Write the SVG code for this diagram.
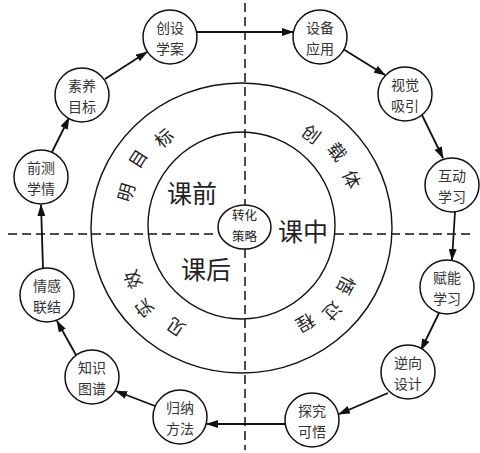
<svg xmlns="http://www.w3.org/2000/svg" width="480" height="453" viewBox="0 0 480 453">
<style>
.ring{fill:none;stroke:#111;stroke-width:1.4}
.dash{fill:none;stroke:#111;stroke-width:1.5;stroke-dasharray:9 5}
.node{fill:#fff;stroke:#111;stroke-width:1.5}
.nt{font-family:"Noto Sans CJK SC","Noto Sans",sans-serif;font-size:14px;fill:#333;text-anchor:middle;dominant-baseline:central}
.rt{font-family:"Noto Sans CJK SC","Noto Sans",sans-serif;font-size:18px;fill:#222;text-anchor:middle;dominant-baseline:central}
.bt{font-family:"Noto Sans CJK SC","Noto Sans",sans-serif;font-size:25px;fill:#222;text-anchor:middle;dominant-baseline:central}
.ct{font-family:"Noto Sans CJK SC","Noto Sans",sans-serif;font-size:12.5px;fill:#222;text-anchor:middle;dominant-baseline:central}
.conn line{stroke:#111;stroke-width:1.8;marker-end:url(#ah)}
</style>
<defs>
<marker id="ah" markerUnits="userSpaceOnUse" markerWidth="12" markerHeight="8" refX="11" refY="4" orient="auto">
<path d="M0,0 L12,4 L0,8 z" fill="#111"/>
</marker>
</defs>
<rect width="480" height="453" fill="#fff"/>
<g id="axes">
<line class="dash" x1="245" y1="3" x2="245" y2="205"/>
<line class="dash" x1="245" y1="249" x2="245" y2="450"/>
<line class="dash" x1="8" y1="234" x2="218" y2="234"/>
<line class="dash" x1="335" y1="234" x2="473" y2="234"/>
</g>
<g id="rings">
<ellipse class="ring" cx="241.5" cy="228" rx="150.5" ry="145"/>
<circle class="ring" cx="241.5" cy="225.5" r="93.5"/>
</g>
<g id="ring-text">
<text class="rt" transform="translate(125,192) rotate(287)">明</text>
<text class="rt" transform="translate(137,158) rotate(303)">目</text>
<text class="rt" transform="translate(163,137) rotate(319)">标</text>
<text class="rt" transform="translate(312,133) rotate(36)">创</text>
<text class="rt" transform="translate(338,151) rotate(52)">载</text>
<text class="rt" transform="translate(353,179) rotate(67)">体</text>
<text class="rt" transform="translate(347,286) rotate(118)">悟</text>
<text class="rt" transform="translate(333,312) rotate(134)">过</text>
<text class="rt" transform="translate(306,324) rotate(150)">程</text>
<text class="rt" transform="translate(175,328) rotate(214)">见</text>
<text class="rt" transform="translate(143,309) rotate(230)">实</text>
<text class="rt" transform="translate(132,280) rotate(245)">效</text>
</g>
<g id="phase-text">
<text class="bt" x="192" y="192">课前</text>
<text class="bt" x="303" y="230">课中</text>
<text class="bt" x="206" y="268">课后</text>
</g>
<g id="center">
<ellipse class="node" cx="244.5" cy="227" rx="26.5" ry="22"/>
<text class="ct" x="244.5" y="214">转化</text>
<text class="ct" x="244.5" y="235">策略</text>
</g>
<g class="conn" id="connectors">
<line x1="43" y1="268" x2="41" y2="205"/>
<line x1="52" y1="152" x2="69" y2="118"/>
<line x1="105" y1="79" x2="147" y2="52"/>
<line x1="197" y1="32" x2="293" y2="32"/>
<line x1="343" y1="49" x2="385" y2="75"/>
<line x1="421" y1="113" x2="443" y2="158"/>
<line x1="455" y1="212" x2="452" y2="260"/>
<line x1="439" y1="313" x2="421" y2="350"/>
<line x1="388" y1="393" x2="339" y2="414"/>
<line x1="285" y1="424" x2="207" y2="424"/>
<line x1="155" y1="406" x2="116" y2="391"/>
<line x1="76" y1="355" x2="57" y2="321"/>
</g>
<g id="n1"><circle class="node" cx="170" cy="37" r="27"/><text class="nt" x="170" y="27">创设</text><text class="nt" x="170" y="48">学案</text></g>
<g id="n2"><circle class="node" cx="320" cy="37" r="27"/><text class="nt" x="320" y="27">设备</text><text class="nt" x="320" y="48">应用</text></g>
<g id="n3"><circle class="node" cx="405" cy="94" r="27"/><text class="nt" x="405" y="84">视觉</text><text class="nt" x="405" y="105">吸引</text></g>
<g id="n4"><circle class="node" cx="452" cy="185" r="27"/><text class="nt" x="452" y="175">互动</text><text class="nt" x="452" y="196">学习</text></g>
<g id="n5"><circle class="node" cx="447" cy="287" r="27"/><text class="nt" x="447" y="277">赋能</text><text class="nt" x="447" y="298">学习</text></g>
<g id="n6"><circle class="node" cx="408" cy="372" r="27"/><text class="nt" x="408" y="362">逆向</text><text class="nt" x="408" y="383">设计</text></g>
<g id="n7"><circle class="node" cx="312" cy="420" r="27"/><text class="nt" x="312" y="410">探究</text><text class="nt" x="312" y="431">可悟</text></g>
<g id="n8"><circle class="node" cx="180" cy="417" r="27"/><text class="nt" x="180" y="407">归纳</text><text class="nt" x="180" y="428">方法</text></g>
<g id="n9"><circle class="node" cx="92" cy="377" r="27"/><text class="nt" x="92" y="367">知识</text><text class="nt" x="92" y="388">图谱</text></g>
<g id="n10"><circle class="node" cx="47" cy="295" r="27"/><text class="nt" x="47" y="285">情感</text><text class="nt" x="47" y="306">联结</text></g>
<g id="n11"><circle class="node" cx="41" cy="177" r="27"/><text class="nt" x="41" y="167">前测</text><text class="nt" x="41" y="188">学情</text></g>
<g id="n12"><circle class="node" cx="82" cy="95" r="27"/><text class="nt" x="82" y="85">素养</text><text class="nt" x="82" y="106">目标</text></g>
</svg>
